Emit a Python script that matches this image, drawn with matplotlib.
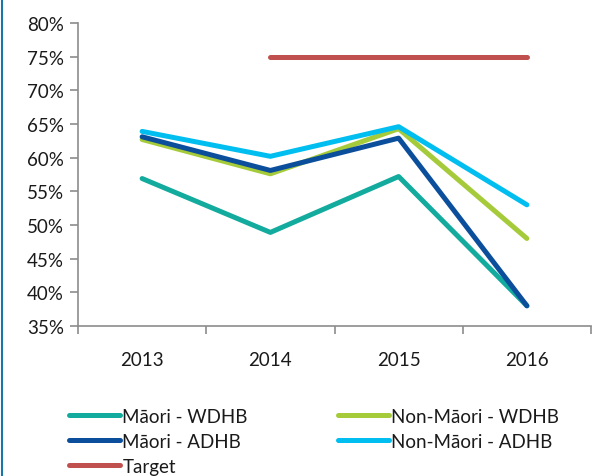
import matplotlib
matplotlib.use("Agg")
import matplotlib.pyplot as plt
from matplotlib.lines import Line2D
import numpy as np

years = ["2013", "2014", "2015", "2016"]
maori_wdhb = [56.9, 48.9, 57.2, 38.0]
non_maori_wdhb = [62.7, 57.6, 64.3, 48.0]
maori_adhb = [63.1, 58.1, 62.9, 38.0]
non_maori_adhb = [63.9, 60.2, 64.6, 53.0]
target = [np.nan, 75.0, 75.0, 75.0]

plt.rcParams["font.family"] = ["Lato", "DejaVu Sans"]

spine_color = "#8C8C8C"
text_color = "#1A1A1A"

fig = plt.figure(figsize=(6.11, 4.77), dpi=100)
ax = fig.add_axes([78 / 611, 150 / 477, 513 / 611, 303 / 477])

x = np.arange(len(years))
lw = 3.6
h1, = ax.plot(x, maori_wdhb, color="#13AB9E", lw=lw, solid_capstyle="round", label="Māori - WDHB")
h4, = ax.plot(x, non_maori_wdhb, color="#A6CB3A", lw=lw, solid_capstyle="round", label="Non-Māori - WDHB")
h2, = ax.plot(x, maori_adhb, color="#0B4F9C", lw=lw, solid_capstyle="round", label="Māori - ADHB")
h5, = ax.plot(x, non_maori_adhb, color="#00BEEF", lw=lw, solid_capstyle="round", label="Non-Māori - ADHB")
h3, = ax.plot(x, target, color="#C0504D", lw=lw, solid_capstyle="round", label="Target")
# dark blue sits on top of the green line
h2.set_zorder(3)

ax.set_xlim(-0.5, len(years) - 0.5)
ax.set_ylim(35, 80)
ax.set_yticks(np.arange(35, 81, 5))
ax.set_yticklabels([f"{v}%" for v in range(35, 81, 5)])
ax.set_xticks(x)
ax.set_xticklabels(years)
ax.set_xticks(np.arange(-0.5, len(years)), minor=True)

for side in ["top", "right"]:
    ax.spines[side].set_visible(False)
for side in ["left", "bottom"]:
    ax.spines[side].set_color(spine_color)
    ax.spines[side].set_linewidth(1.2)

ax.tick_params(axis="y", length=6, width=1.2, color=spine_color, labelsize=13.5, labelcolor=text_color, pad=4)
ax.tick_params(axis="x", which="major", length=0, labelsize=13.5, labelcolor=text_color, pad=18)
ax.tick_params(axis="x", which="minor", length=6, width=1.2, color=spine_color)

fig.legend([h1, h2, h3, h4, h5],
           [h.get_label() for h in [h1, h2, h3, h4, h5]],
           ncol=2, loc="upper left", bbox_to_anchor=(69 / 611, 1 - 409 / 477),
           frameon=False, fontsize=13.5, labelcolor=text_color,
           handlelength=2.7, handletextpad=0.15, columnspacing=4.8,
           labelspacing=0.42, borderpad=0, borderaxespad=0)

fig.add_artist(Line2D([1.5 / 611, 1.5 / 611], [0, 1], color="#1B76A8", lw=1.5))

fig.savefig("out.png", dpi=100)
